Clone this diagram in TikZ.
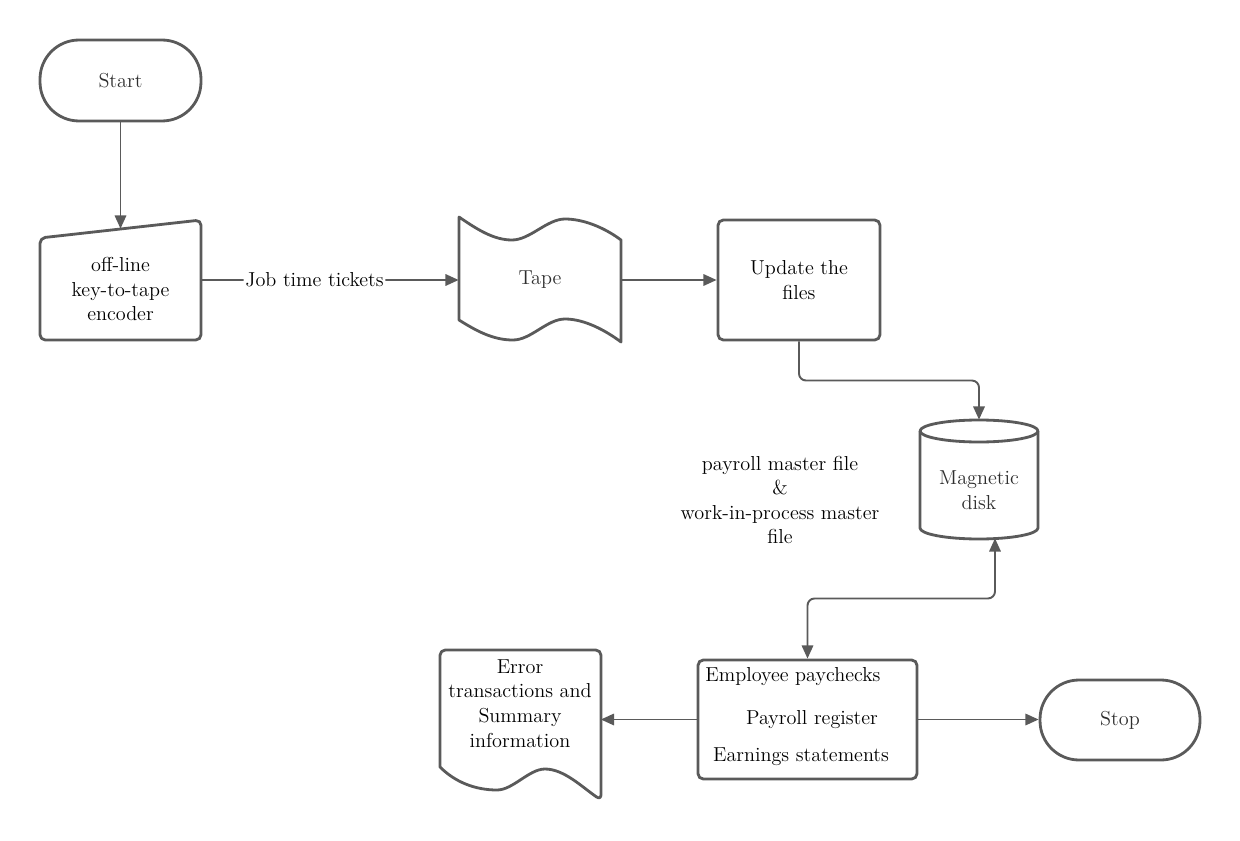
\documentclass[tikz,border=0pt]{standalone}
\usetikzlibrary{arrows.meta,calc}
\definecolor{linegray}{HTML}{5A5A5A}
\definecolor{textgray}{HTML}{2E2E2E}
\tikzstyle{terminal} = [rectangle, rounded corners=0.78cm, draw=linegray, line width=1.6pt, minimum width=3.22cm, minimum height=1.62cm, text=textgray]
\tikzstyle{process} = [rectangle, rounded corners=3pt, draw=linegray, line width=1.6pt, align=center]
\tikzstyle{outline} = [draw=linegray, line width=1.6pt, line join=round]
\tikzstyle{flow} = [draw=linegray, line width=1.1pt, ->, rounded corners=4pt]
\tikzstyle{txt} = [align=center, inner sep=0pt]

\begin{document}
\begin{tikzpicture}[x=0.02cm, y=-0.02cm, >={Triangle[length=7.5pt,width=6.5pt]}, font=\fontsize{11.5}{14}\selectfont]
\useasboundingbox (0,0) rectangle (1240,841);

    % Start
    \node (start) at (120.5,80.5) [terminal] {Start};

    % Off-line encoder (manual input)
    \draw[outline, rounded corners=3pt] (40,238) -- (201,220) -- (201,340) -- (40,340) -- cycle;
    \node (enc) at (120.5,289) [txt, minimum width=3.22cm, minimum height=2.04cm] {off-line\\key-to-tape\\encoder};
    \draw[flow] (start) -- ([yshift=0.18cm]enc.north);

    % Tape
    \draw[outline]
        (459,217) .. controls (478,230) and (494,240) .. (512,240)
        .. controls (530,240) and (547,219) .. (565,219)
        .. controls (584,219) and (605,228) .. (621,240)
        -- (621,342)
        .. controls (605,330) and (584,319) .. (565,319)
        .. controls (547,319) and (531,340) .. (513,340)
        .. controls (494,340) and (478,332) .. (459,320) -- cycle;
    \node (tape) at (540,280) [txt, text=textgray, minimum width=3.24cm, minimum height=2.04cm] {Tape};
    \draw[flow] ([yshift=0.18cm]enc.east) -- (tape.west) node[pos=0.44, fill=white, inner sep=1pt] {Job time tickets};

    % Update
    \node (upd) at (799,280) [process, minimum width=3.24cm, minimum height=2.4cm] {Update the\\files};
    \draw[flow] (tape.east) -- (upd.west);

    % Magnetic disk
    \draw[outline, fill=white] (920,431) -- (920,528) arc[start angle=180, end angle=360, x radius=1.18cm, y radius=0.22cm] -- (1038,431);
    \draw[outline] (979,431) ellipse [x radius=1.18cm, y radius=0.22cm];
    \node (disk) at (979,490) [txt, text=textgray, minimum width=2.36cm, minimum height=1.92cm] {Magnetic\\disk};
    \coordinate (disktop) at ([yshift=0.44cm]disk.north);
    \coordinate (diskbot) at ([xshift=0.32cm]disk.south);
    \draw[flow] (upd.south) |- ($(upd.south)!.5!(disktop)$) -| (disktop);

    \node (files) at (780,500) [txt] {payroll master file\\\&\\work-in-process master\\file};

    % Output
    \node (out) at (807.5,719.5) [process, minimum width=4.38cm, minimum height=2.38cm] {};
    \node (paychk) at (705,677) [anchor=west, inner sep=0pt] {Employee paychecks};
    \node (payreg) at (812,720) [inner sep=0pt] {Payroll register};
    \node (earn) at (801,757) [inner sep=0pt] {Earnings statements};
    \draw[flow, <->] (out.north) |- ($(out.north)!.5!(diskbot)$) -| (diskbot);

    % Document
    \draw[outline] (601,800)
        .. controls (582,787) and (564,769) .. (545,769)
        .. controls (529,769) and (513,790) .. (497,790)
        .. controls (475,790) and (455,782) .. (440,767)
        [rounded corners=3pt] -- (440,650) -- (601,650) -- cycle;
    \node (doc) at (520,703.5) [txt, minimum width=3.22cm, minimum height=2.14cm] {Error\\transactions and\\Summary\\information};
    \draw[flow] (out.west) -- (out.west -| doc.east);

    % Stop
    \node (stop) at (1120,720) [terminal, minimum width=3.2cm, minimum height=1.6cm] {Stop};
    \draw[flow] (out.east) -- (out.east -| stop.west);

\end{tikzpicture}
\end{document}
